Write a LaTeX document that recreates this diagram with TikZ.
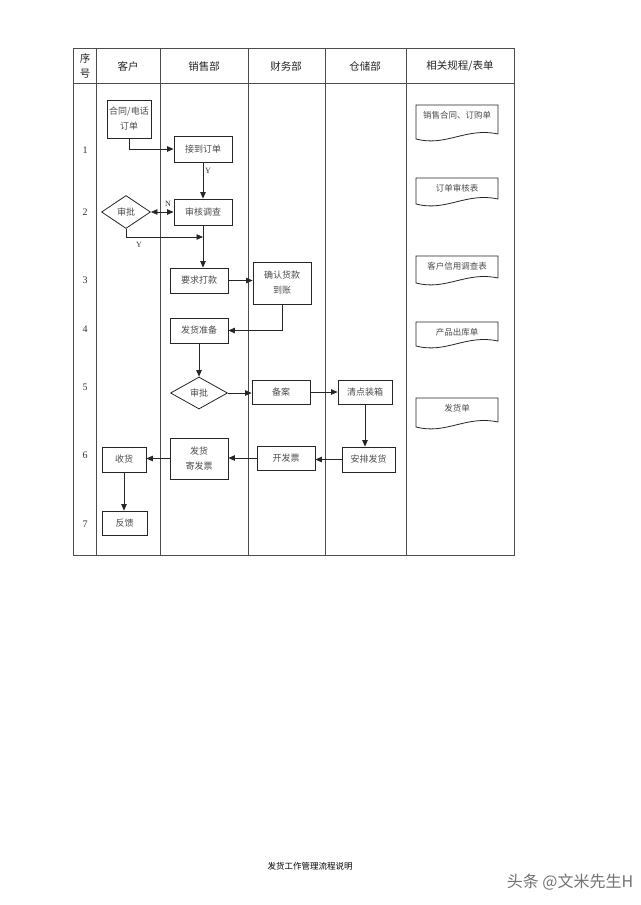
\documentclass[tikz,border=0pt]{standalone}
\usepackage{fontspec}
\setmainfont{Liberation Serif}
\newfontfamily\cjk{Noto Sans CJK SC}
\usetikzlibrary{arrows.meta,shapes.geometric}
\begin{document}
\begin{tikzpicture}[x=1pt,y=-1pt,
  grid/.style={draw=black!70, line width=0.8pt},
  box/.style={draw=black!85, line width=0.8pt, font=\cjk\fontsize{9}{15}\selectfont, text=black!70, inner sep=0pt, align=center},
  dia/.style={draw=black!85, line width=0.8pt, diamond, font=\cjk\fontsize{9}{11}\selectfont, text=black!70, inner sep=0pt},
  arr/.style={draw=black!85, line width=0.8pt, -{Triangle[length=6.5pt,width=5.5pt]}},
  darr/.style={draw=black!85, line width=0.8pt, {Triangle[length=6.5pt,width=5.5pt]}-{Triangle[length=6.5pt,width=5.5pt]}},
  head/.style={font=\cjk\fontsize{10.5}{13}\selectfont, text=black!85},
  rownum/.style={font=\fontsize{10}{12}\selectfont, text=black!80},
  lab/.style={font=\fontsize{8}{10}\selectfont, text=black!80, inner sep=0pt},
  doctext/.style={font=\cjk\fontsize{8.5}{11}\selectfont, text=black!70, inner sep=0pt},
  docline/.style={draw=black!85, line width=0.8pt}
]
\useasboundingbox (0,0) rectangle (640,905);
\fill[white] (0,0) rectangle (640,905);

% table
\draw[grid] (73,48) rectangle (514,555);
\draw[grid] (73,83) -- (514,83);
\foreach \x in {96,160,248,325,406} \draw[grid] (\x,48) -- (\x,555);

% headers
\node[head] (hxu) at (85,58) {序};
\node[head] (hhao) at (85,74) {号};
\node[head] (hkh) at (128,66) {客户};
\node[head] (hxs) at (204,66) {销售部};
\node[head] (hcw) at (286,66) {财务部};
\node[head] (hcc) at (365,66) {仓储部};
\node[head] (hgc) at (460,66) {相关规程/表单};

% row numbers
\node[rownum] (r1) at (85,150) {1};
\node[rownum] (r2) at (85,212) {2};
\node[rownum] (r3) at (85,280) {3};
\node[rownum] (r4) at (85,329) {4};
\node[rownum] (r5) at (85,387) {5};
\node[rownum] (r6) at (85,455) {6};
\node[rownum] (r7) at (85,524) {7};

% process nodes
\node[box, minimum width=44pt, minimum height=38pt] (ht) at (129,119) {合同/电话\\订单};
\node[box, minimum width=58pt, minimum height=26pt] (jd) at (203,149) {接到订单};
\node[box, minimum width=58pt, minimum height=26pt] (sh) at (203,212) {审核调查};
\node[dia, minimum width=49pt, minimum height=33pt] (sp1) at (126,212) {审批};
\node[box, minimum width=58pt, minimum height=25pt] (yq) at (199,280.5) {要求打款};
\node[box, minimum width=58pt, minimum height=42pt] (qr) at (282,283) {确认货款\\到账};
\node[box, minimum width=58pt, minimum height=25pt] (zb) at (199,330.5) {发货准备};
\node[dia, minimum width=57pt, minimum height=32pt] (sp2) at (199,393) {审批};
\node[box, minimum width=58pt, minimum height=24pt] (ba) at (281,392) {备案};
\node[box, minimum width=54pt, minimum height=24pt] (qd) at (365,392) {清点装箱};
\node[box, minimum width=53pt, minimum height=25pt] (ap) at (368.5,459.5) {安排发货};
\node[box, minimum width=58pt, minimum height=24pt] (kp) at (286,458) {开发票};
\node[box, minimum width=58pt, minimum height=41pt] (jf) at (199,458.5) {发货\\寄发票};
\node[box, minimum width=44pt, minimum height=25pt] (shh) at (124,459.5) {收货};
\node[box, minimum width=45pt, minimum height=24pt] (fk) at (124.5,523) {反馈};

% connectors
\draw[arr] (ht.south) |- (jd.west);
\draw[arr] (jd.south) -- (sh.north);
\node[lab] (ly1) at (208,171) {Y};
\draw[darr] (sp1.east) -- (sh.west);
\node[lab] (ln) at (168,204) {N};
\coordinate (j1) at (203,237);
\draw[arr] (sp1.south) |- (j1);
\node[lab] (ly2) at (139,245) {Y};
\draw[arr] (sh.south) -- (sh.south |- yq.north);
\draw[arr] (yq.east) -- (yq.east -| qr.west);
\draw[arr] (qr.south) |- (zb.east);
\draw[arr] (zb.south) -- (sp2.north);
\draw[arr] (sp2.east) -- (sp2.east -| ba.west);
\draw[arr] (ba.east) -- (ba.east -| qd.west);
\draw[arr] (qd.south) -- (qd.south |- ap.north);
\draw[arr] (ap.west) -- (ap.west -| kp.east);
\draw[arr] (kp.west) -- (kp.west -| jf.east);
\draw[arr] (jf.west) -- (jf.west -| shh.east);
\draw[arr] (shh.south) -- (shh.south |- fk.north);

% documents
\foreach \yt/\yb/\txt/\nm in {105/139/{销售合同、订购单}/d1, 178/204/{订单审核表}/d2, 256/283/{客户信用调查表}/d3, 322/346/{产品出库单}/d4, 398/427/{发货单}/d5}{
  \draw[docline] (416,\yt) -- (498,\yt) -- (498,\yb-5)
     .. controls (466,\yb-12) and (446,\yb+8) .. (416,\yb) -- cycle;
  \node[doctext] (\nm) at (457,\yt+10) {\txt};
}

% footer
\node[font=\cjk\fontsize{8.5}{10}\selectfont, text=black] (foot) at (310,866) {发货工作管理流程说明};
\node[font=\cjk\fontsize{16}{18}\selectfont, text=black!55] (wm) at (570,882) {头条 @文米先生H};
\end{tikzpicture}
\end{document}
